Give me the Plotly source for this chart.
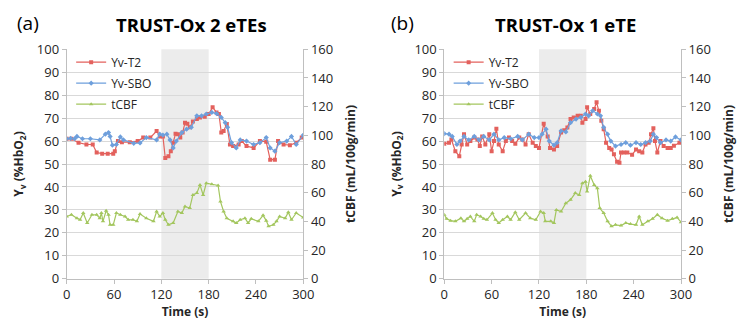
import plotly.graph_objects as go

# ---------------- Data ----------------
# Panel (a): TRUST-Ox 2 eTEs
a_t2_time = [0, 6, 15, 25, 33, 38, 45, 52, 59, 61, 65, 70, 80, 90, 97, 106, 114, 118, 122, 125, 129, 132,
             135, 138, 141, 144, 147, 150, 153, 156, 160, 165, 169, 175, 180, 185, 190, 193, 196, 199, 203,
             207, 211, 218, 222, 228, 237, 245, 253, 258, 264, 268, 275, 283, 291, 298]
a_t2 = [61, 61, 59.3, 58.5, 58.5, 55, 54.5, 54.5, 54.5, 55.6, 60, 59.5, 59.5, 60, 61.5, 61.5, 64.4, 62, 62, 52.6,
        53.4, 55.6, 59.3, 63.2, 63, 61.5, 63.7, 68, 67.6, 66, 68.5, 69.6, 70.3, 70.6, 71.8, 74.7, 72.5, 71.8,
        63.7, 64.4, 67.4, 58.5, 57.8, 58.5, 60, 57.8, 57, 60, 59.7, 51.9, 51.9, 60, 58.5, 58.2, 59.3, 61.5]

a_sbo_time = [0, 5, 10, 13, 20, 30, 42, 49, 53, 55, 58, 63, 68, 72, 85, 93, 101, 114, 118, 122, 127, 131, 135,
              139, 146, 152, 158, 165, 171, 177, 184, 190, 196, 201, 204, 209, 215, 220, 228, 237, 245, 253,
              258, 264, 270, 279, 285, 291, 300]
a_sbo = [61, 61.2, 61, 62, 61, 61, 60.5, 63, 63.7, 62, 58.2, 58.5, 61.8, 60.5, 59, 59.2, 61.5, 60.5, 63, 62.6,
         63, 60.5, 57, 60, 63.7, 65.2, 66, 71, 71, 71.8, 72.5, 72, 70.3, 68, 66, 59.3, 57, 60.5, 60, 58.5, 59.3,
         61.5, 57, 55.6, 59.3, 60, 62, 58.5, 62.6]

a_cbf_time = [0, 6, 13, 17, 21, 26, 32, 38, 42, 44, 46, 50, 53, 55, 59, 63, 68, 74, 78, 84, 89, 93, 101, 110,
              114, 118, 122, 125, 129, 135, 141, 146, 150, 156, 160, 165, 169, 173, 177, 184, 192, 195, 199,
              203, 211, 215, 220, 226, 230, 234, 243, 249, 253, 256, 262, 266, 270, 277, 281, 285, 291, 300]
a_cbf = [43.4, 44.6, 42.2, 41.1, 45.8, 38.9, 44.6, 44.6, 42.2, 45.8, 40, 47.4, 44.6, 37.6, 37.6, 45.8, 44.6,
         43.4, 41.1, 41.1, 40, 45.1, 42.2, 40, 46.9, 43.4, 45.8, 41.1, 37.6, 38.9, 46.9, 45.8, 50.4, 49.3, 58.4,
         59.7, 65.4, 58.4, 66.6, 65.9, 65, 53.8, 46.9, 42.2, 40, 38.9, 41.1, 42.2, 38.9, 41.8, 40, 44.2, 40.5,
         36.5, 37.6, 40, 43.4, 42.2, 46.4, 41.1, 45.8, 42.7]

# Panel (b): TRUST-Ox 1 eTE
b_t2_time = [0, 6, 9, 14, 19, 22, 25, 29, 33, 38, 42, 45, 48, 52, 57, 60, 63, 66, 69, 74, 78, 82, 86, 90, 95,
             99, 103, 107, 112, 116, 120, 126, 131, 134, 139, 143, 148, 152, 156, 160, 164, 169, 173, 175, 179,
             181, 185, 190, 193, 196, 199, 202, 205, 209, 212, 215, 219, 222, 224, 228, 232, 238, 243, 247, 251,
             255, 259, 262, 265, 267, 270, 274, 278, 283, 287, 291, 298]
b_t2 = [58.8, 59.3, 60.7, 55.6, 53.4, 58.5, 63, 58.5, 60, 61.5, 60.7, 57.8, 62, 58.5, 63, 55.6, 60, 65.4, 58.5,
        55.6, 60, 61.5, 60, 58.8, 61.5, 60.7, 58.5, 63, 59.3, 57.8, 57, 67.6, 62, 57, 56.3, 57.8, 63.7, 64.7,
        65.9, 69.6, 70.3, 71, 71, 68, 69.6, 74.7, 71.8, 74, 76.9, 73.2, 68.8, 65.2, 59.3, 57, 56.3, 54.3, 51,
        50.5, 55, 55, 55, 54, 56.3, 55.6, 55, 58.5, 59.3, 63, 65.6, 60, 55, 60, 57.8, 57, 57, 58, 59.3]

b_sbo_time = [0, 6, 10, 16, 20, 25, 31, 38, 44, 50, 57, 63, 69, 76, 84, 93, 99, 107, 114, 120, 124, 129, 133,
              139, 143, 148, 154, 160, 167, 173, 179, 183, 188, 194, 198, 202, 207, 211, 217, 224, 230, 236,
              243, 249, 255, 261, 265, 269, 274, 281, 287, 293, 300]
b_sbo = [63.2, 63, 62, 58.5, 60, 62, 60.5, 62, 60.5, 62, 60.5, 63, 60.5, 61.5, 61, 62, 60.5, 63, 61.5, 61.5,
         63, 65.2, 60, 58.2, 59.3, 64.4, 64, 68, 69.6, 70.3, 71.8, 71, 73.2, 71.8, 71, 66, 63, 60, 57.8, 58.5,
         59.3, 58.2, 59.3, 58.5, 59.3, 60, 63, 61.5, 59.3, 60.5, 60, 61.8, 60.5]

b_cbf_time = [0, 3, 8, 14, 21, 25, 29, 33, 38, 41, 46, 50, 54, 61, 65, 69, 74, 80, 84, 90, 95, 103, 109, 116,
              122, 126, 128, 135, 139, 142, 148, 154, 160, 166, 171, 175, 179, 181, 185, 190, 194, 197, 202,
              207, 212, 217, 224, 230, 236, 243, 247, 251, 258, 264, 270, 276, 283, 289, 295, 300]
b_cbf = [44.6, 41.8, 40.5, 40, 42.2, 40, 41.8, 43.4, 40, 44.6, 43.4, 41.8, 41.1, 45.8, 41.1, 38.9, 41.1, 43.4,
         41.1, 46.4, 41.1, 45.8, 42.2, 41.1, 46.9, 45.8, 40, 40, 38.9, 48, 46.9, 52.6, 55, 59.7, 58.4, 66.6,
         67.7, 60.8, 71.8, 65.4, 63, 49.3, 45.8, 40, 36.5, 37.6, 37.1, 38.9, 38.1, 37.6, 43.4, 37.6, 40, 41.8,
         44.6, 42.2, 40.5, 41.8, 42.7, 39.4]

series_names = ["Yv-T2", "Yv-SBO", "tCBF"]
panel_titles = ["TRUST-Ox 2 eTEs", "TRUST-Ox 1 eTE"]
panel_labels = ["(a)", "(b)"]
x_ticks = [0, 60, 120, 180, 240, 300]
stim_window = [120, 180]

# ---------------- Styling ----------------
RED = "#e3615d"
BLUE = "#6e9fdc"
GREEN = "#a3c65e"
FONT = "Open Sans, Liberation Sans, sans-serif"
GRID = "#d9d9d9"
AXIS = "#bfbfbf"
TXT = "#262626"

fig = go.Figure()

panels = [
    dict(t2=(a_t2_time, a_t2), sbo=(a_sbo_time, a_sbo), cbf=(a_cbf_time, a_cbf),
         x="x", y="y", y2="y2", legend="legend"),
    dict(t2=(b_t2_time, b_t2), sbo=(b_sbo_time, b_sbo), cbf=(b_cbf_time, b_cbf),
         x="x2", y="y3", y2="y4", legend="legend2"),
]

for i, p in enumerate(panels):
    specs = [
        (p["t2"], series_names[0], RED, "square", p["y"]),
        (p["sbo"], series_names[1], BLUE, "diamond", p["y"]),
        (p["cbf"], series_names[2], GREEN, "triangle-up", p["y2"]),
    ]
    for k, ((tx, vy), name, col, sym, yax) in enumerate(specs):
        fig.add_trace(go.Scatter(
            x=tx, y=vy, name=name, mode="lines+markers",
            line=dict(color=col, width=1.2),
            marker=dict(symbol=sym, size=4, color=col),
            xaxis=p["x"], yaxis=yax, legend=p["legend"],
            legendgroup=f"g{i}{k}",
        ))

# domains
xa_dom = [66.7 / 749, 303.3 / 749]
xb_dom = [444.3 / 749, 681.0 / 749]
y_dom = [(322 - 278.7) / 322, (322 - 49.3) / 322]

tickfont = dict(family=FONT, size=13, color=TXT)
titlefont = dict(family=FONT, size=12, color=TXT)

def xaxis(dom, anchor):
    return dict(domain=dom, anchor=anchor, range=[0, 300], tickvals=x_ticks, automargin=False,
                showgrid=False, zeroline=False, showline=True, linecolor=AXIS, linewidth=1,
                ticks="outside", ticklen=4, tickcolor=AXIS, tickfont=tickfont,
                title=dict(text="<b>Time (s)</b>", font=titlefont, standoff=4))

def yleft(anchor):
    return dict(domain=y_dom, anchor=anchor, range=[0, 100], dtick=10, automargin=False,
                showgrid=True, gridcolor=GRID, gridwidth=1, zeroline=False,
                showline=True, linecolor=AXIS, ticks="outside", ticklen=4, tickcolor=AXIS,
                tickfont=tickfont,
                title=dict(text="<b>Y<sub>v</sub> (%HbO<sub>2</sub>)</b>", font=titlefont, standoff=10))

def yright(overlay, anchor):
    return dict(overlaying=overlay, anchor=anchor, side="right", range=[0, 160], dtick=20,
                automargin=False,
                showgrid=False, zeroline=False, showline=True, linecolor=AXIS,
                ticks="outside", ticklen=4, tickcolor=AXIS, tickfont=tickfont,
                title=dict(text="<b>tCBF (mL/100g/min)</b>", font=titlefont, standoff=14))

legend_common = dict(font=dict(family=FONT, size=12, color=TXT), bgcolor="rgba(0,0,0,0)",
                     tracegroupgap=2, itemwidth=30, xanchor="left", yanchor="top")

fig.update_layout(
    width=749, height=322,
    margin=dict(l=0, r=0, t=0, b=0),
    paper_bgcolor="white", plot_bgcolor="white",
    xaxis=xaxis(xa_dom, "y"),
    xaxis2=xaxis(xb_dom, "y3"),
    yaxis=yleft("x"),
    yaxis2=yright("y", "x"),
    yaxis3=yleft("x2"),
    yaxis4=yright("y3", "x2"),
    legend=dict(x=0.095, y=0.852, **legend_common),
    legend2=dict(x=0.599, y=0.852, **legend_common),
    showlegend=True,
)

for i, (xr, yr, xdom) in enumerate([("x", "y", xa_dom), ("x2", "y3", xb_dom)]):
    fig.add_shape(type="rect", xref=xr, yref=f"{yr} domain", x0=stim_window[0], x1=stim_window[1],
                  y0=0, y1=1, fillcolor="#ececec", line=dict(width=0), layer="below")

# titles and panel labels
title_x = [191 / 749, 565 / 749]
label_x = [15 / 749, 389 / 749]
for i in range(2):
    fig.add_annotation(text=f"<b>{panel_titles[i]}</b>", xref="paper", yref="paper",
                       x=title_x[i], y=1 - 24 / 322, xanchor="center", yanchor="middle",
                       showarrow=False, font=dict(family=FONT, size=18.5, color="#000000"))
    fig.add_annotation(text=panel_labels[i], xref="paper", yref="paper",
                       x=label_x[i], y=1 - 23 / 322, xanchor="left", yanchor="middle",
                       showarrow=False, font=dict(family=FONT, size=19, color="#000000"))

fig.write_html("out.html", config={"displayModeBar": False},
               post_script="document.body.style.margin='0';")
